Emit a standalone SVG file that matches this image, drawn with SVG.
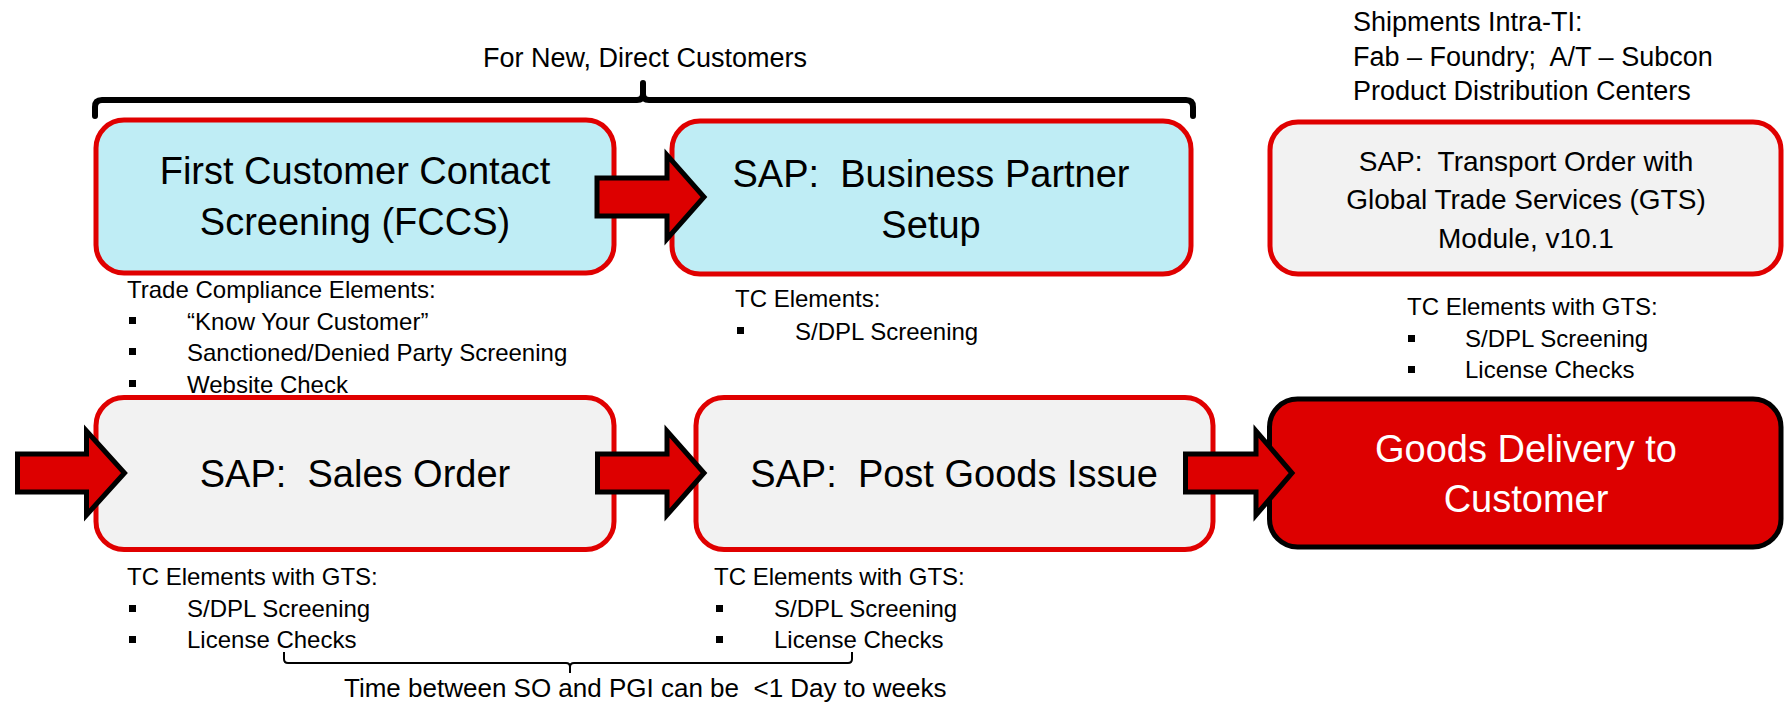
<svg xmlns="http://www.w3.org/2000/svg" width="1785" height="706" viewBox="0 0 1785 706">
<defs>
<style>
text{font-family:"Liberation Sans",Arial,sans-serif;fill:#000}
.main{font-size:38px;text-anchor:middle}
.gts{font-size:28px;text-anchor:middle}
.sub{font-size:24px}
.hdr{font-size:27px}
.cyan{fill:#BFEDF5;stroke:#E00000;stroke-width:5}
.grey{fill:#F2F2F2;stroke:#E00000;stroke-width:5}
.red{fill:#DD0000;stroke:#000;stroke-width:5}
.arrow{fill:#DD0000;stroke:#000;stroke-width:5;stroke-linejoin:miter}
.bul{fill:#000}
</style>
</defs>
<rect width="1785" height="706" fill="#fff"/>

<g id="labels">
<text class="hdr" x="645" y="67" text-anchor="middle">For New, Direct Customers</text>
<text class="hdr" x="1353" y="31">Shipments Intra-TI:</text>
<text class="hdr" x="1353" y="66" xml:space="preserve">Fab – Foundry;  A/T – Subcon</text>
<text class="hdr" x="1353" y="100">Product Distribution Centers</text>
</g>

<g id="fccs-notes">
<text class="sub" x="127" y="298">Trade Compliance Elements:</text>
<rect class="bul" x="129" y="317" width="7" height="7"/>
<text class="sub" x="187" y="330">“Know Your Customer”</text>
<rect class="bul" x="129" y="348" width="7" height="7"/>
<text class="sub" x="187" y="361">Sanctioned/Denied Party Screening</text>
<rect class="bul" x="129" y="380" width="7" height="7"/>
<text class="sub" x="187" y="393">Website Check</text>
</g>

<g id="bp-notes">
<text class="sub" x="735" y="307">TC Elements:</text>
<rect class="bul" x="737" y="327" width="7" height="7"/>
<text class="sub" x="795" y="340">S/DPL Screening</text>
</g>

<g id="gts-notes">
<text class="sub" x="1407" y="315">TC Elements with GTS:</text>
<rect class="bul" x="1408" y="335" width="7" height="7"/>
<text class="sub" x="1465" y="347">S/DPL Screening</text>
<rect class="bul" x="1408" y="366" width="7" height="7"/>
<text class="sub" x="1465" y="378">License Checks</text>
</g>

<g id="so-notes">
<text class="sub" x="127" y="585">TC Elements with GTS:</text>
<rect class="bul" x="129" y="605" width="7" height="7"/>
<text class="sub" x="187" y="617">S/DPL Screening</text>
<rect class="bul" x="129" y="636" width="7" height="7"/>
<text class="sub" x="187" y="648">License Checks</text>
</g>

<g id="pgi-notes">
<text class="sub" x="714" y="585">TC Elements with GTS:</text>
<rect class="bul" x="716" y="605" width="7" height="7"/>
<text class="sub" x="774" y="617">S/DPL Screening</text>
<rect class="bul" x="716" y="636" width="7" height="7"/>
<text class="sub" x="774" y="648">License Checks</text>
</g>

<g id="node-fccs">
<rect class="cyan" x="96" y="120" width="518" height="153" rx="28"/>
<text class="main" x="355" y="184">First Customer Contact</text>
<text class="main" x="355" y="235">Screening (FCCS)</text>
</g>

<g id="node-bp">
<rect class="cyan" x="672" y="121" width="519" height="153" rx="28"/>
<text class="main" x="931" y="187" xml:space="preserve">SAP:  Business Partner</text>
<text class="main" x="931" y="238">Setup</text>
</g>

<g id="node-gts">
<rect class="grey" x="1270" y="122" width="511" height="152" rx="28"/>
<text class="gts" x="1526" y="171" xml:space="preserve">SAP:  Transport Order with</text>
<text class="gts" x="1526" y="209">Global Trade Services (GTS)</text>
<text class="gts" x="1526" y="248">Module, v10.1</text>
</g>

<g id="node-so">
<rect class="grey" x="96" y="397.5" width="518" height="152" rx="28"/>
<text class="main" x="355" y="487" xml:space="preserve">SAP:  Sales Order</text>
</g>

<g id="node-pgi">
<rect class="grey" x="696" y="397.5" width="517" height="152" rx="28"/>
<text class="main" x="954" y="487" xml:space="preserve">SAP:  Post Goods Issue</text>
</g>

<g id="node-gdc">
<rect class="red" x="1269.5" y="399" width="511.5" height="148" rx="28"/>
<text class="main" x="1526" y="462" style="fill:#fff">Goods Delivery to</text>
<text class="main" x="1526" y="512" style="fill:#fff">Customer</text>
</g>

<g id="connectors">
<polygon class="arrow" points="17.5,454 86.5,454 86.5,431 124.5,473 86.5,515 86.5,492 17.5,492"/>
<polygon class="arrow" points="597,178 667,178 667,155 704,197 667,239 667,216 597,216"/>
<polygon class="arrow" points="597.5,454 667,454 667,431 704,473 667,515 667,492 597.5,492"/>
<polygon class="arrow" points="1185.5,454 1256,454 1256,431 1292,473 1256,515 1256,492 1185.5,492"/>
</g>

<g id="braces" fill="none" stroke="#000">
<path d="M95,116 L95,107 Q95,100 102,100 L637,100 Q643,100 643,94 L643,83 M643,94 Q643,100 649,100 L1186,100 Q1193,100 1193,107 L1193,116" stroke-width="6" stroke-linecap="round" stroke-linejoin="round"/>
<path d="M284,652 L284,659 Q284,663 288,663 L566,663 Q570,663 570,667 L570,673 M570,667 Q570,663 574,663 L848,663 Q852,663 852,659 L852,652" stroke-width="2"/>
</g>

<text class="sub" x="344" y="697" style="font-size:26px" xml:space="preserve">Time between SO and PGI can be  &lt;1 Day to weeks</text>
</svg>
